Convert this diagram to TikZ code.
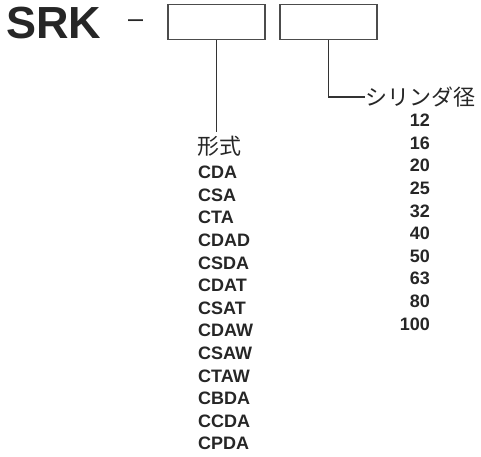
\documentclass[tikz,border=0pt]{standalone}
\usepackage{fontspec}
\setmainfont{Liberation Sans}
\newfontfamily\jpfont{Noto Sans CJK JP}
\usepackage{tikz}
\usetikzlibrary{positioning}

\begin{document}
\begin{tikzpicture}[
                x=1pt, y=-1pt,
                codebox/.style={rectangle, draw=black!70, line width=1.2pt, minimum width=97pt, minimum height=35pt, inner sep=0pt},
                leader/.style={draw=black!80, line width=1.3pt},
                codelist/.style={inner sep=0pt, text=black!85, font=\fontsize{18}{22.6}\selectfont\bfseries},
                jplabel/.style={inner sep=0pt, text=black!85, font=\jpfont\fontsize{22}{22}\selectfont}
            ]
                \useasboundingbox (0,0) rectangle (481,456);
                % Model code
                \node[inner sep=0pt, anchor=base west, text=black!85, font=\fontsize{45}{45}\selectfont\bfseries] (srk) at (6,38) {SRK};
                \node[inner sep=0pt, anchor=base west, text=black!85, font=\fontsize{27}{27}\selectfont] (dash) at (128,27.4) {–};
                \node[codebox] (box1) at (216.5,22) {};
                \node[codebox] (box2) at (328.5,22) {};

                % Type list
                \node[jplabel, anchor=base west] (form) at (197,154.5) {形式};
                \node[codelist, align=left, anchor=north west] (types) at (198,166) {CDA\\CSA\\CTA\\CDAD\\CSDA\\CDAT\\CSAT\\CDAW\\CSAW\\CTAW\\CBDA\\CCDA\\CPDA};
                \coordinate (formend) at (box1.south |- 0,132);

                % Bore list
                \node[jplabel, anchor=west] (bore) at (365,97) {シリンダ径};
                \node[codelist, align=right, anchor=north east] (sizes) at (430,114) {12\\16\\20\\25\\32\\40\\50\\63\\80\\100};

                \path[leader] (box1.south) -- (formend);
                \path[leader] (box2.south) |- (bore.west);
            \end{tikzpicture}
\end{document}
